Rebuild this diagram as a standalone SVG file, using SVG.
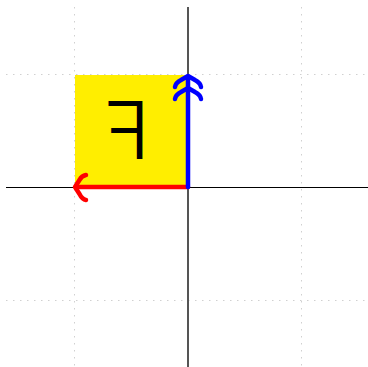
<svg xmlns="http://www.w3.org/2000/svg" width="368" height="367" viewBox="0 0 368 367">
<style>
.grid{stroke:#d0d0d0;stroke-width:1;stroke-dasharray:1.5,5.5;fill:none}
.arrow{fill:none;stroke-width:4.5;stroke-linecap:round;stroke-linejoin:round}
</style>
<rect width="368" height="367" fill="#fff"/>
<g id="grid">
<line class="grid" x1="74.5" y1="7" x2="74.5" y2="367"/>
<line class="grid" x1="301.5" y1="7" x2="301.5" y2="367"/>
<line class="grid" x1="6" y1="74.5" x2="368" y2="74.5"/>
<line class="grid" x1="6" y1="300.5" x2="368" y2="300.5"/>
</g>
<g id="square">
<rect x="75" y="75" width="113" height="112" fill="#ffee00"/>
<text x="-150" y="159" transform="scale(-1,1)" font-family="Inter, 'Open Sans', sans-serif" font-weight="300" font-size="80" fill="#000">F</text>
</g>
<g id="axes">
<line x1="188" y1="7" x2="188" y2="367" stroke="#555" stroke-width="2"/>
<line x1="6" y1="187.5" x2="368" y2="187.5" stroke="#000" stroke-width="1"/>
</g>
<g id="connectors">
<g id="red-arrow" stroke="#ff0000">
<line class="arrow" x1="188" y1="187" x2="76" y2="187"/>
<path class="arrow" d="M86,175 C83,175.5 81,177 79.5,180 L75,187 L79.5,194 C81,197 83,199.5 86,200"/>
</g>
<g id="blue-arrow" stroke="#0000ff">
<line class="arrow" x1="188" y1="187" x2="188" y2="77"/>
<path class="arrow" d="M175,87 C175.5,84 177,82 181,80 L188,76 L195,80 C199,82 200.5,84 201,87"/>
<path class="arrow" d="M175,99 C175.5,96 177,94 181,92 L188,88 L195,92 C199,94 200.5,96 201,99"/>
</g>
</g>
</svg>
